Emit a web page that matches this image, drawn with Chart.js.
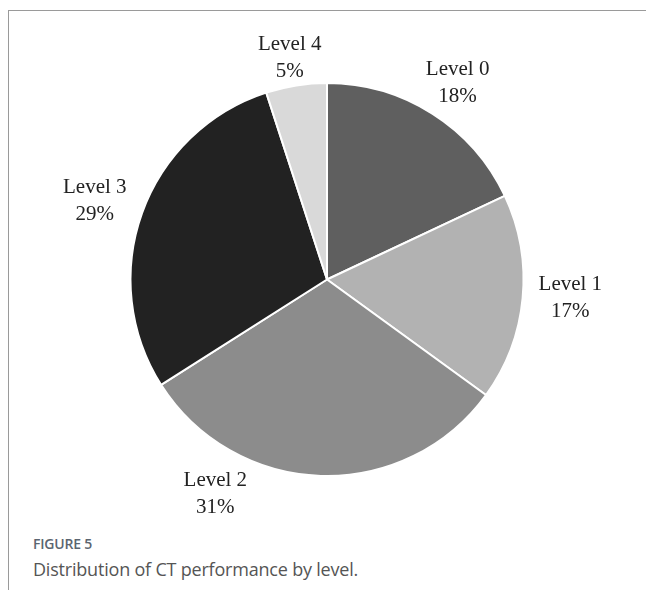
<!DOCTYPE html>
<html>
<head>
<meta charset="utf-8">
<script src="https://cdn.jsdelivr.net/npm/chart.js@4"></script>
<style>
  html, body { margin: 0; padding: 0; background: #fff; }
  body { width: 646px; height: 590px; position: relative; overflow: hidden; }
  #frame { position: absolute; left: 8px; top: 10px; width: 640px; height: 590px;
           border-top: 1px solid #9a9a9a; border-left: 1px solid #9a9a9a; }
  #wrap { position: absolute; left: 0; top: 0; width: 646px; height: 530px; }
  .cap { position: absolute; left: 33px; white-space: nowrap; font-family: "Open Sans", sans-serif; letter-spacing: -0.2px; }
  #fig { top: 534px; font-size: 14px; font-weight: 600; color: #5b6570; }
  #cap { top: 557px; font-size: 18px; font-weight: 400; color: #555; }
</style>
</head>
<body>
<div id="frame"></div>
<div id="wrap"><canvas id="c" width="646" height="530"></canvas></div>
<div id="fig" class="cap">FIGURE 5</div>
<div id="cap" class="cap">Distribution of CT performance by level.</div>
<script>
const categories = ["Level 0", "Level 1", "Level 2", "Level 3", "Level 4"];
const percentages = [18, 17, 31, 29, 5];
const sliceColors = ["#5f5f5f", "#b2b2b2", "#8c8c8c", "#222222", "#d9d9d9"];

const labelPlugin = {
  id: "pieLabels",
  afterDatasetsDraw(chart, args, opts) {
    const ctx = chart.ctx;
    const meta = chart.getDatasetMeta(0);
    ctx.save();
    ctx.font = "21px 'Liberation Serif', 'Times New Roman', serif";
    ctx.fillStyle = "#222";
    ctx.textAlign = "center";
    ctx.textBaseline = "middle";
    meta.data.forEach((arc, i) => {
      const p = arc.getProps(["x", "y", "startAngle", "endAngle", "outerRadius"], true);
      const n = Object.assign({a: 0, d: 0, dx: 0, dy: 0}, (opts.nudges && opts.nudges[i]) || {});
      const mid = (p.startAngle + p.endAngle) / 2 + n.a * Math.PI / 180;
      const hw = 35, hh = 27, pad = 14;
      const ext = Math.sqrt((hw * Math.cos(mid)) ** 2 + (hh * Math.sin(mid)) ** 2);
      const dist = p.outerRadius + pad + ext + n.d;
      const cx = p.x + Math.cos(mid) * dist + n.dx;
      const cy = p.y + Math.sin(mid) * dist + n.dy;
      ctx.fillText(chart.data.labels[i], cx, cy - 13.5);
      ctx.fillText(chart.data.datasets[0].data[i] + "%", cx, cy + 13.5);
    });
    ctx.restore();
  }
};

new Chart(document.getElementById("c"), {
  type: "pie",
  data: {
    labels: categories,
    datasets: [{
      data: percentages,
      backgroundColor: sliceColors,
      borderColor: "#ffffff",
      borderWidth: 2
    }]
  },
  options: {
    responsive: false,
    animation: false,
    layout: { padding: { left: 129, right: 121, top: 82, bottom: 53 } },
    plugins: {
      legend: { display: false },
      tooltip: { enabled: false },
      pieLabels: { nudges: [
        {dx: 2, dy: 6}, {dx: -1, dy: -5}, {a: 26, dy: 3}, {dx: -2, dy: 4}, {d: -12, dx: -2, dy: 1}
      ] }
    }
  },
  plugins: [labelPlugin]
});
</script>
</body>
</html>
